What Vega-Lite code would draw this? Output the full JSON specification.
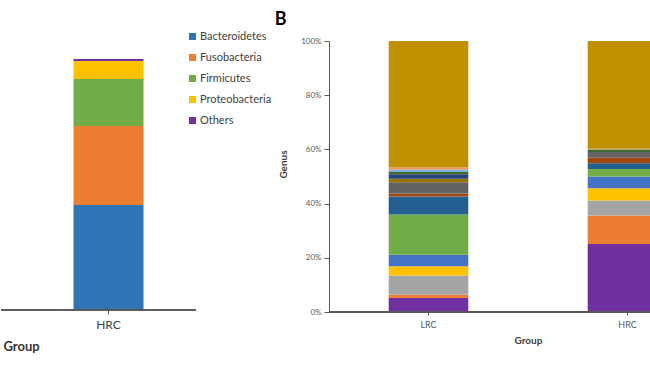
{
  "$schema": "https://vega.github.io/schema/vega-lite/v6.json",
  "background": "white",
  "padding": {"left": 0, "top": 11, "right": 0, "bottom": 0},
  "bounds": "flush",
  "spacing": 133,
  "config": {"view": {"stroke": null}, "font": "Lato"},
  "datasets": {
    "phylum": [
      {"group": "HRC", "phylum": "Bacteroidetes", "pct": 41.8, "rank": 1},
      {"group": "HRC", "phylum": "Fusobacteria", "pct": 31.5, "rank": 2},
      {"group": "HRC", "phylum": "Firmicutes", "pct": 18.7, "rank": 3},
      {"group": "HRC", "phylum": "Proteobacteria", "pct": 7.2, "rank": 4},
      {"group": "HRC", "phylum": "Others", "pct": 0.8, "rank": 5}
    ],
    "genus": [
      {"group": "LRC", "taxon": "Taxon 1", "pct": 5.2, "rank": 1},
      {"group": "LRC", "taxon": "Taxon 2", "pct": 1.2, "rank": 2},
      {"group": "LRC", "taxon": "Taxon 3", "pct": 7.1, "rank": 3},
      {"group": "LRC", "taxon": "Taxon 4", "pct": 3.4, "rank": 4},
      {"group": "LRC", "taxon": "Taxon 5", "pct": 4.2, "rank": 5},
      {"group": "LRC", "taxon": "Taxon 6", "pct": 14.9, "rank": 6},
      {"group": "LRC", "taxon": "Taxon 7", "pct": 6.6, "rank": 7},
      {"group": "LRC", "taxon": "Taxon 8", "pct": 1.1, "rank": 8},
      {"group": "LRC", "taxon": "Taxon 9", "pct": 4.2, "rank": 9},
      {"group": "LRC", "taxon": "Taxon 10", "pct": 1.3, "rank": 10},
      {"group": "LRC", "taxon": "Taxon 11", "pct": 1.6, "rank": 11},
      {"group": "LRC", "taxon": "Taxon 12", "pct": 0.9, "rank": 12},
      {"group": "LRC", "taxon": "Taxon 13", "pct": 0.9, "rank": 13},
      {"group": "LRC", "taxon": "Taxon 14", "pct": 0.8, "rank": 14},
      {"group": "LRC", "taxon": "Taxon 15", "pct": 46.6, "rank": 15},
      {"group": "HRC", "taxon": "Taxon 1", "pct": 25.1, "rank": 1},
      {"group": "HRC", "taxon": "Taxon 2", "pct": 10.5, "rank": 2},
      {"group": "HRC", "taxon": "Taxon 3", "pct": 5.5, "rank": 3},
      {"group": "HRC", "taxon": "Taxon 4", "pct": 4.6, "rank": 4},
      {"group": "HRC", "taxon": "Taxon 5", "pct": 4.3, "rank": 5},
      {"group": "HRC", "taxon": "Taxon 6", "pct": 2.8, "rank": 6},
      {"group": "HRC", "taxon": "Taxon 7", "pct": 2.1, "rank": 7},
      {"group": "HRC", "taxon": "Taxon 8", "pct": 2.0, "rank": 8},
      {"group": "HRC", "taxon": "Taxon 9", "pct": 2.1, "rank": 9},
      {"group": "HRC", "taxon": "Taxon 12", "pct": 1.0, "rank": 12},
      {"group": "HRC", "taxon": "Taxon 13", "pct": 0.1, "rank": 13},
      {"group": "HRC", "taxon": "Taxon 14", "pct": 0.1, "rank": 14},
      {"group": "HRC", "taxon": "Taxon 15", "pct": 39.8, "rank": 15}
    ]
  },
  "hconcat": [
    {
      "width": 195,
      "height": 269,
      "data": {"name": "phylum"},
      "layer": [
        {
          "mark": {"type": "bar", "clip": true},
          "encoding": {
            "x": {
              "field": "group", "type": "nominal",
              "scale": {"domain": ["LRC", "HRC"], "range": [-155, 195], "paddingInner": 0.6, "paddingOuter": 0.3},
              "axis": {"values": ["HRC"], "domain": false, "title": "Group", "labelAngle": 0,
                "labelFontSize": 12, "labelColor": "#404040", "labelPadding": 5,
                "tickSize": 4, "tickColor": "#595959",
                "titleFontSize": 13, "titleFontWeight": "bold", "titleColor": "#333333", "titlePadding": 10}
            },
            "y": {
              "field": "pct", "type": "quantitative", "stack": "zero",
              "scale": {"domain": [0, 100], "range": [269, 18]},
              "axis": null
            },
            "color": {
              "field": "phylum", "type": "nominal",
              "scale": {
                "domain": ["Bacteroidetes", "Fusobacteria", "Firmicutes", "Proteobacteria", "Others"],
                "range": ["#2E75B6", "#ED7D31", "#70AD47", "#FFC000", "#7030A0"]
              },
              "legend": {
                "orient": "none", "legendX": 186, "legendY": -10, "title": null,
                "symbolType": "square", "symbolSize": 49, "symbolStrokeWidth": 0,
                "labelFontSize": 11, "labelColor": "#404040", "rowPadding": 9, "labelOffset": 2
              }
            },
            "order": {"field": "rank", "type": "quantitative"}
          }
        },
        {
          "mark": {"type": "rule", "color": "#595959", "strokeWidth": 1},
          "encoding": {"y": {"datum": 0, "type": "quantitative"}}
        }
      ]
    },
    {
      "width": 322,
      "height": 271,
      "title": {"text": "B", "anchor": "start", "frame": "bounds", "fontSize": 18, "fontWeight": "bold", "color": "#000000", "offset": 8, "dx": -4},
      "data": {"name": "genus"},
      "layer": [
        {
          "mark": {"type": "bar", "clip": true},
          "encoding": {
            "x": {
              "field": "group", "type": "nominal",
              "scale": {"domain": ["LRC", "HRC"], "range": [0, 398], "paddingInner": 0.6, "paddingOuter": 0.3},
              "axis": {"domain": false, "title": "Group", "labelAngle": 0,
                "labelFontSize": 9, "labelColor": "#595959", "labelPadding": 5,
                "tickSize": 3, "tickColor": "#595959",
                "titleFontSize": 10, "titleFontWeight": "bold", "titleColor": "#404040", "titlePadding": 6}
            },
            "y": {
              "field": "pct", "type": "quantitative", "stack": "zero",
              "scale": {"domain": [0, 100]},
              "axis": {"values": [0, 20, 40, 60, 80, 100], "labelExpr": "datum.value + '%'", "grid": false,
                "domainColor": "#595959", "tickColor": "#595959", "tickSize": 5,
                "labelFontSize": 8, "labelColor": "#595959", "labelPadding": 3,
                "title": "Genus", "titleFontSize": 10, "titleFontWeight": "bold", "titleColor": "#404040", "titlePadding": 12, "titleY": 123}
            },
            "color": {
              "field": "taxon", "type": "nominal",
              "scale": {
                "domain": ["Taxon 1", "Taxon 2", "Taxon 3", "Taxon 4", "Taxon 5", "Taxon 6", "Taxon 7", "Taxon 8", "Taxon 9", "Taxon 10", "Taxon 11", "Taxon 12", "Taxon 13", "Taxon 14", "Taxon 15"],
                "range": ["#7030A0", "#ED7D31", "#A5A5A5", "#FFC000", "#4472C4", "#70AD47", "#255E91", "#9E480E", "#636363", "#997300", "#264478", "#43682B", "#7CAFDD", "#F1975A", "#BF9000"]
              },
              "legend": null
            },
            "order": {"field": "rank", "type": "quantitative"}
          }
        },
        {
          "mark": {"type": "rule", "color": "#595959", "strokeWidth": 1},
          "encoding": {"y": {"datum": 0, "type": "quantitative"}}
        }
      ]
    }
  ],
  "resolve": {"scale": {"x": "independent", "y": "independent", "color": "independent"}, "legend": {"color": "independent"}}
}
